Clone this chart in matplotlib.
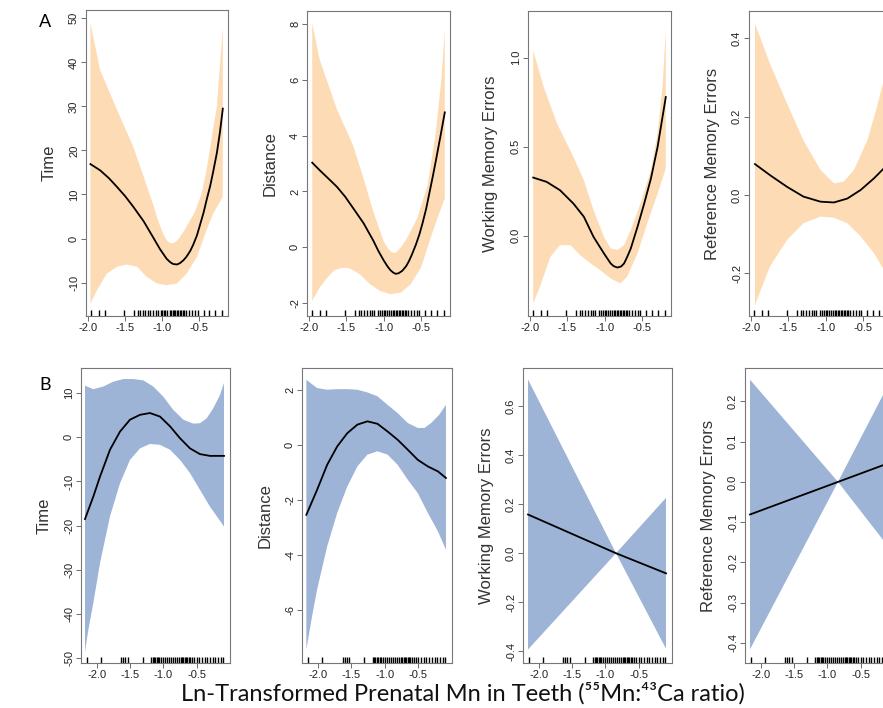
import numpy as np
import matplotlib
matplotlib.use("Agg")
import matplotlib.pyplot as plt

plt.rcParams['font.family'] = ['Liberation Sans', 'DejaVu Sans']
plt.rcParams['axes.unicode_minus'] = False

PEACH = '#FDDBB4'
BLUE = '#9DB4D6'

# ---- row A (orange) ----
a_time_xfit = [-1.97, -1.84, -1.72, -1.61, -1.50, -1.39, -1.25, -1.12, -1.03, -0.94, -0.89, -0.85, -0.80, -0.76,
               -0.71, -0.67, -0.62, -0.58, -0.53, -0.49, -0.44, -0.40, -0.35, -0.31, -0.26, -0.22, -0.18]
a_time_fit = [16.9, 15.5, 13.7, 11.7, 9.6, 7.2, 3.9, 0.2, -2.4, -4.6, -5.4, -5.8, -5.9, -5.6,
              -4.9, -4.1, -2.8, -1.4, 0.7, 3.0, 5.9, 8.7, 12.0, 15.2, 19.5, 24.0, 29.5]
a_time_xup = [-1.97, -1.84, -1.61, -1.39, -1.25, -1.12, -1.05, -0.98, -0.93, -0.89, -0.84, -0.80, -0.74, -0.67,
              -0.56, -0.47, -0.40, -0.31, -0.26, -0.22, -0.18]
a_time_up = [48.9, 38.3, 29.2, 20.8, 14.0, 7.6, 3.8, 0.8, -0.6, -1.1, -1.0, -0.5, 0.8, 2.7,
             6.0, 10.0, 15.5, 25.0, 30.0, 39.0, 48.0]
a_time_xlo = [-1.97, -1.88, -1.75, -1.61, -1.48, -1.34, -1.21, -1.07, -0.94, -0.80, -0.67, -0.53, -0.40, -0.31, -0.18]
a_time_lo = [-14.8, -11.7, -8.0, -6.4, -5.9, -6.4, -8.7, -10.2, -10.6, -10.2, -8.0, -4.2, 1.9, 5.7, 9.5]

a_dist_xfit = [-1.96, -1.86, -1.75, -1.63, -1.52, -1.41, -1.27, -1.14, -1.07, -1.00, -0.95, -0.91, -0.87, -0.84,
               -0.80, -0.75, -0.70, -0.66, -0.62, -0.57, -0.52, -0.48, -0.43, -0.39, -0.34, -0.30, -0.24, -0.18]
a_dist_fit = [3.03, 2.76, 2.48, 2.17, 1.82, 1.40, 0.86, 0.24, -0.14, -0.47, -0.68, -0.82, -0.91, -0.95,
              -0.93, -0.84, -0.68, -0.49, -0.25, 0.08, 0.47, 0.85, 1.38, 1.90, 2.55, 3.10, 3.95, 4.83]
a_dist_xup = [-1.96, -1.86, -1.63, -1.41, -1.27, -1.14, -1.00, -0.94, -0.89, -0.84, -0.80, -0.74, -0.68,
              -0.55, -0.41, -0.30, -0.23, -0.18]
a_dist_up = [8.02, 6.72, 4.95, 3.64, 2.46, 1.28, 0.21, -0.05, -0.18, -0.20, -0.10, 0.10, 0.36,
             1.04, 2.22, 4.12, 5.90, 7.73]
a_dist_xlo = [-1.96, -1.86, -1.72, -1.66, -1.59, -1.52, -1.45, -1.32, -1.18, -1.05, -0.91, -0.77, -0.64, -0.50,
              -0.37, -0.28, -0.18]
a_dist_lo = [-1.92, -1.44, -0.97, -0.82, -0.76, -0.73, -0.76, -0.97, -1.33, -1.56, -1.68, -1.62, -1.33, -0.73,
             0.33, 1.04, 1.75]

a_wme_xfit = [-1.96, -1.78, -1.60, -1.42, -1.28, -1.15, -1.01, -0.92, -0.88, -0.83, -0.78, -0.74, -0.70, -0.65,
              -0.56, -0.47, -0.38, -0.29, -0.18]
a_wme_fit = [0.327, 0.303, 0.256, 0.181, 0.107, -0.006, -0.099, -0.155, -0.170, -0.178, -0.172, -0.155, -0.120, -0.071,
             0.050, 0.181, 0.321, 0.499, 0.779]
a_wme_xup = [-1.96, -1.82, -1.64, -1.42, -1.28, -1.15, -1.01, -0.92, -0.83, -0.74, -0.65, -0.52, -0.38, -0.29, -0.22, -0.18]
a_wme_up = [1.04, 0.836, 0.63, 0.443, 0.312, 0.144, -0.006, -0.071, -0.080, -0.052, 0.032, 0.181, 0.368, 0.574, 0.854, 1.16]
a_wme_xlo = [-1.96, -1.87, -1.73, -1.60, -1.46, -1.33, -1.19, -1.06, -0.92, -0.79, -0.70, -0.56, -0.43, -0.29, -0.18]
a_wme_lo = [-0.379, -0.286, -0.118, -0.052, -0.052, -0.108, -0.155, -0.193, -0.239, -0.267, -0.230, -0.099, 0.069, 0.237, 0.378]

a_rme_xfit = [-1.95, -1.75, -1.52, -1.30, -1.07, -0.89, -0.71, -0.53, -0.35, -0.22, -0.17]
a_rme_fit = [0.079, 0.051, 0.021, -0.004, -0.017, -0.019, -0.009, 0.013, 0.043, 0.068, 0.081]
a_rme_xup = [-1.95, -1.75, -1.52, -1.30, -1.07, -0.89, -0.76, -0.62, -0.44, -0.31, -0.22, -0.17]
a_rme_up = [0.438, 0.336, 0.234, 0.140, 0.064, 0.030, 0.034, 0.064, 0.140, 0.226, 0.294, 0.345]
a_rme_xlo = [-1.95, -1.75, -1.52, -1.30, -1.07, -0.89, -0.71, -0.53, -0.35, -0.22, -0.17]
a_rme_lo = [-0.281, -0.183, -0.115, -0.072, -0.055, -0.058, -0.072, -0.106, -0.149, -0.191, -0.209]

rug_a = [-1.96, -1.85, -1.77, -1.52, -1.38, -1.33, -1.30, -1.26, -1.23, -1.19, -1.16, -1.13,
         -1.08, -1.05, -1.02, -1.00, -0.98, -0.96, -0.93, -0.90, -0.88, -0.86, -0.84, -0.82,
         -0.80, -0.78, -0.76, -0.74, -0.72, -0.70, -0.68, -0.64, -0.60, -0.55, -0.52, -0.44,
         -0.37, -0.28, -0.19]

# ---- row B (blue) ----
b_time_xfit = [-2.175, -2.05, -1.95, -1.80, -1.65, -1.50, -1.35, -1.20, -1.05, -0.90, -0.75, -0.60, -0.45, -0.30, -0.09]
b_time_fit = [-18.5, -13.4, -8.9, -2.8, 1.3, 4.0, 5.1, 5.5, 4.7, 2.5, -0.2, -2.5, -3.8, -4.2, -4.2]
b_time_xup = [-2.175, -2.05, -1.90, -1.75, -1.60, -1.45, -1.30, -1.15, -1.00, -0.85, -0.70, -0.55, -0.45, -0.35, -0.25, -0.15, -0.09]
b_time_up = [11.7, 10.9, 11.5, 12.6, 13.2, 13.2, 12.9, 11.5, 9.2, 6.2, 4.0, 3.1, 3.2, 4.3, 6.6, 9.6, 12.3]
b_time_xlo = [-2.175, -2.125, -2.05, -1.95, -1.80, -1.65, -1.50, -1.35, -1.20, -1.05, -0.90, -0.75, -0.60, -0.45, -0.30, -0.09]
b_time_lo = [-48.5, -43.6, -37.5, -28.5, -17.9, -10.4, -5.1, -2.5, -1.5, -1.7, -2.8, -5.1, -8.1, -11.9, -15.7, -20.2]

b_dist_xfit = [-2.17, -2.01, -1.86, -1.71, -1.56, -1.41, -1.26, -1.11, -0.96, -0.81, -0.66, -0.51, -0.36, -0.21, -0.09]
b_dist_fit = [-2.55, -1.64, -0.73, -0.06, 0.42, 0.73, 0.85, 0.76, 0.48, 0.18, -0.18, -0.55, -0.79, -0.97, -1.21]
b_dist_xup = [-2.17, -2.01, -1.86, -1.71, -1.56, -1.41, -1.26, -1.11, -0.96, -0.81, -0.66, -0.51, -0.41, -0.31, -0.19, -0.09]
b_dist_up = [2.36, 2.06, 2.0, 2.02, 2.02, 2.0, 1.90, 1.76, 1.45, 1.15, 0.79, 0.61, 0.61, 0.79, 1.09, 1.45]
b_dist_xlo = [-2.17, -2.085, -2.01, -1.86, -1.71, -1.56, -1.41, -1.26, -1.11, -0.96, -0.81, -0.66, -0.51, -0.36, -0.21, -0.09]
b_dist_lo = [-7.45, -6.24, -5.27, -3.70, -2.48, -1.52, -0.79, -0.36, -0.24, -0.36, -0.73, -1.27, -1.76, -2.48, -3.15, -3.82]

b_lin_x = [-2.16, -0.84, -0.09]
b_wme_fit = [0.158, 0.0, -0.082]
b_wme_up = [0.709, 0.0, 0.226]
b_wme_lo = [-0.393, 0.0, -0.390]
b_rme_fit = [-0.081, 0.0, 0.046]
b_rme_up = [0.254, 0.0, 0.24]
b_rme_lo = [-0.416, 0.0, -0.16]

rug_b = [-2.14, -1.93, -1.63, -1.60, -1.57, -1.53, -1.31, -1.18, -1.16, -1.14, -1.12, -1.10,
         -1.08, -1.06, -1.03, -1.00, -0.97, -0.94, -0.91, -0.88, -0.85, -0.82, -0.79, -0.76,
         -0.74, -0.72, -0.70, -0.68, -0.66, -0.64, -0.62, -0.60, -0.57, -0.54, -0.50, -0.46,
         -0.42, -0.38, -0.34, -0.30, -0.26, -0.22, -0.18, -0.14, -0.10]

x_ticks = [-2.0, -1.5, -1.0, -0.5]

W, H = 883, 708
fig = plt.figure(figsize=(W / 100, H / 100), dpi=100)


def panel(left, top, width, height, xf, yf, xu, yu, xl, yl, rug, color,
          ylabel, yticks, yfmt, ylim, xlim):
    ax = fig.add_axes([left / W, 1 - (top + height) / H, width / W, height / H])
    ax.fill(np.concatenate([xu, xl[::-1]]), np.concatenate([yu, yl[::-1]]),
            color=color, lw=0)
    ax.plot(xf, yf, color='black', lw=1.3, solid_joinstyle='round')
    ax.vlines(rug, 0, 0.02, transform=ax.get_xaxis_transform(), color='black', lw=1.0)
    ax.set_xlim(xlim)
    ax.set_ylim(ylim)
    ax.set_xticks(x_ticks)
    ax.set_xticklabels(['%.1f' % t for t in x_ticks])
    ax.set_yticks(yticks)
    ax.set_yticklabels([yfmt % t for t in yticks], rotation=90, va='center')
    ax.tick_params(direction='out', length=3.5, width=0.6, colors='#555555',
                   labelcolor='#222222', labelsize=8, pad=1.5)
    for s in ax.spines.values():
        s.set_color('#777777')
        s.set_linewidth(0.8)
    ax.set_ylabel(ylabel, fontsize=12, color='#333333')
    ax.yaxis.label.set_va('center')
    ax.yaxis.set_label_coords(-37 / width, 0.5)
    return ax


xlim_a = (-2.03, -0.11)
xlim_b = (-2.235, 0.0)

panel(86, 10, 142, 306, a_time_xfit, a_time_fit, a_time_xup, a_time_up, a_time_xlo, a_time_lo,
      rug_a, PEACH, 'Time', [-10, 0, 10, 20, 30, 40, 50], '%d', (-17.6, 51.9), xlim_a)
panel(307, 11, 143, 305, a_dist_xfit, a_dist_fit, a_dist_xup, a_dist_up, a_dist_xlo, a_dist_lo,
      rug_a, PEACH, 'Distance', [-2, 0, 2, 4, 6, 8], '%d', (-2.46, 8.46), xlim_a)
panel(528, 11, 143, 305, a_wme_xfit, a_wme_fit, a_wme_xup, a_wme_up, a_wme_xlo, a_wme_lo,
      rug_a, PEACH, 'Working Memory Errors', [0.0, 0.5, 1.0], '%.1f', (-0.45, 1.262), xlim_a)
panel(749, 11, 143, 305, a_rme_xfit, a_rme_fit, a_rme_xup, a_rme_up, a_rme_xlo, a_rme_lo,
      rug_a, PEACH, 'Reference Memory Errors', [-0.2, 0.0, 0.2, 0.4], '%.1f', (-0.309, 0.47), xlim_a)

panel(81, 368, 149, 295, b_time_xfit, b_time_fit, b_time_xup, b_time_up, b_time_xlo, b_time_lo,
      rug_b, BLUE, 'Time', [-50, -40, -30, -20, -10, 0, 10], '%d', (-51.1, 15.7), xlim_b)
panel(302, 368, 150, 295, b_dist_xfit, b_dist_fit, b_dist_xup, b_dist_up, b_dist_xlo, b_dist_lo,
      rug_b, BLUE, 'Distance', [-6, -4, -2, 0, 2], '%d', (-7.94, 2.79), xlim_b)
panel(523, 368, 149, 295, b_lin_x, b_wme_fit, b_lin_x, b_wme_up, b_lin_x, b_wme_lo,
      rug_b, BLUE, 'Working Memory Errors', [-0.4, -0.2, 0.0, 0.2, 0.4, 0.6], '%.1f', (-0.448, 0.756), xlim_b)
panel(745, 368, 149, 295, b_lin_x, b_rme_fit, b_lin_x, b_rme_up, b_lin_x, b_rme_lo,
      rug_b, BLUE, 'Reference Memory Errors', [-0.4, -0.3, -0.2, -0.1, 0.0, 0.1, 0.2], '%.1f', (-0.45, 0.283), xlim_b)

fig.text(45 / W, 1 - 22 / H, 'A', fontsize=13, family='Lato', ha='center', va='center')
fig.text(45 / W, 1 - 385 / H, 'B', fontsize=13, family='Lato', ha='center', va='center')
fig.text(463 / W, 1 - 701 / H, 'Ln-Transformed Prenatal Mn in Teeth (\u2075\u2075Mn:\u2074\u00b3Ca ratio)',
         fontsize=17, family=['Lato', 'Noto Sans', 'DejaVu Sans'], ha='center', va='baseline', color='#111111')

fig.savefig('out.png', dpi=100)
